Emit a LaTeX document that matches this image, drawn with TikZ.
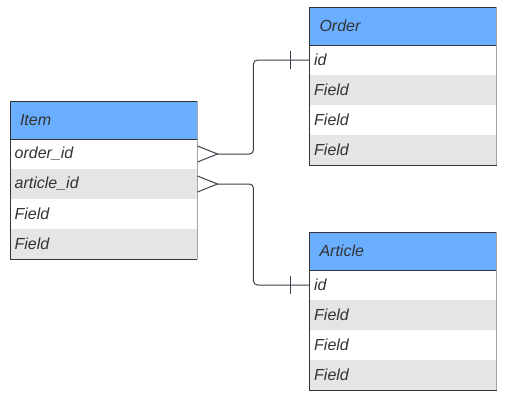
\documentclass[tikz,border=0pt]{standalone}
\usepackage{fontspec}
\setmainfont{Liberation Sans}
\usetikzlibrary{positioning}
\definecolor{hdrblue}{RGB}{106,174,255}
\definecolor{rowgray}{RGB}{229,229,229}
\definecolor{txtgray}{RGB}{51,51,51}
\definecolor{linegray}{RGB}{58,65,74}

\begin{document}
\begin{tikzpicture}[x=0.75pt,y=-0.75pt,node distance=0pt,
  hdr/.style={fill=hdrblue,minimum width=140.6pt,minimum height=28.5pt,inner xsep=7.5pt,outer sep=0pt,
    text width=125.6pt,align=left,text=txtgray,font=\itshape\fontsize{12}{14}\selectfont},
  rowwhite/.style={fill=white,minimum width=140.6pt,minimum height=22.5pt,inner xsep=3.5pt,outer sep=0pt,
    text width=133.6pt,align=left,text=txtgray,font=\itshape\fontsize{12}{14}\selectfont},
  rowgrey/.style={rowwhite,fill=rowgray},
  frame/.style={draw=txtgray,line width=0.75pt},
  link/.style={draw=linegray,line width=0.75pt}]
  \useasboundingbox (0,0) rectangle (506,400);

  % Item
  \node[hdr,anchor=north west] (item) at (10,101) {Item};
  \node[rowwhite,below=of item] (item-r1) {order\_id};
  \node[rowgrey,below=of item-r1] (item-r2) {article\_id};
  \node[rowwhite,below=of item-r2] (item-r3) {Field};
  \node[rowgrey,below=of item-r3] (item-r4) {Field};
  \draw[frame] (item.south west) -- (item.south east);
  \draw[frame] (item-r4.south east) -- (item-r4.south west) -- (item.north west) -- (item.north east);
  \draw[gray!70,line width=0.75pt] (item.north east) -- (item-r4.south east);

  % Order
  \node[hdr,anchor=north west] (order) at (309.5,7) {Order};
  \node[rowwhite,below=of order] (order-r1) {id};
  \node[rowgrey,below=of order-r1] (order-r2) {Field};
  \node[rowwhite,below=of order-r2] (order-r3) {Field};
  \node[rowgrey,below=of order-r3] (order-r4) {Field};
  \draw[frame] (order.south west) -- (order.south east);
  \draw[frame] (order-r4.south east) -- (order-r4.south west) -- (order.north west) -- (order.north east);
  \draw[gray!70,line width=0.75pt] (order.north east) -- (order-r4.south east);

  % Article
  \node[hdr,anchor=north west] (article) at (309.5,232) {Article};
  \node[rowwhite,below=of article] (article-r1) {id};
  \node[rowgrey,below=of article-r1] (article-r2) {Field};
  \node[rowwhite,below=of article-r2] (article-r3) {Field};
  \node[rowgrey,below=of article-r3] (article-r4) {Field};
  \draw[frame] (article.south west) -- (article.south east);
  \draw[frame] (article-r4.south east) -- (article-r4.south west) -- (article.north west) -- (article.north east);
  \draw[gray!70,line width=0.75pt] (article.north east) -- (article-r4.south east);

  % relations
  \coordinate (crow1) at ([xshift=15pt]item-r1.east);
  \coordinate (crow2) at ([xshift=15pt]item-r2.east);
  \draw[link] ([yshift=6pt]item-r1.east) -- (crow1) -- ([yshift=-6pt]item-r1.east);
  \draw[link] ([yshift=6pt]item-r2.east) -- (crow2) -- ([yshift=-6pt]item-r2.east);
  \draw[link,rounded corners=3pt] (crow1) -- ++(27pt,0) |- (order-r1.west);
  \draw[link,rounded corners=3pt] (crow2) -- ++(27pt,0) |- (article-r1.west);
  \draw[link] ([xshift=-14.25pt,yshift=6.75pt]order-r1.west) -- ([xshift=-14.25pt,yshift=-6.75pt]order-r1.west);
  \draw[link] ([xshift=-14.25pt,yshift=6.75pt]article-r1.west) -- ([xshift=-14.25pt,yshift=-6.75pt]article-r1.west);
\end{tikzpicture}
\end{document}
